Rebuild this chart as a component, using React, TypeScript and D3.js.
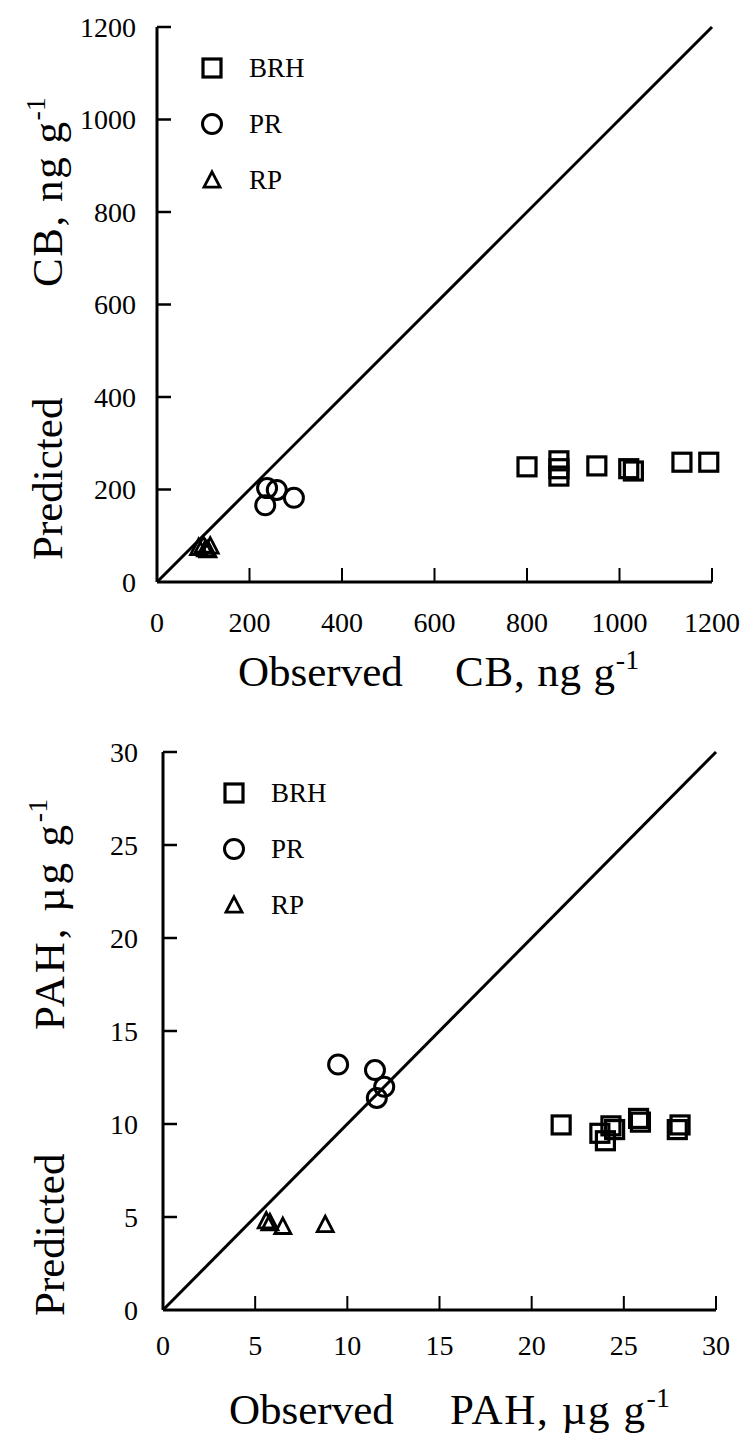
import React from "react";
import * as d3 from "d3";

// ---------- Data ----------
const cbTicks = [0, 200, 400, 600, 800, 1000, 1200];
const pahTicks = [0, 5, 10, 15, 20, 25, 30];

const cbBRH: [number, number][] = [
  [800, 249], [869, 262], [869, 245], [869, 229], [951, 251],
  [1020, 245], [1030, 240], [1135, 259], [1193, 259],
];
const cbPR: [number, number][] = [
  [238, 203], [259, 199], [234, 166], [296, 182],
];
const cbRP: [number, number][] = [
  [90, 75], [100, 80], [105, 72], [115, 78], [110, 70],
];

const pahBRH: [number, number][] = [
  [21.6, 9.95], [23.7, 9.5], [24.3, 9.9], [24.0, 9.1], [24.5, 9.7],
  [25.8, 10.3], [25.9, 10.1], [28.05, 9.95], [27.9, 9.7],
];
const pahPR: [number, number][] = [
  [9.5, 13.2], [11.5, 12.9], [11.6, 11.4], [12.0, 12.0],
];
const pahRP: [number, number][] = [
  [5.6, 4.8], [5.8, 4.7], [6.5, 4.5], [8.8, 4.6],
];

const legendLabels = ["BRH", "PR", "RP"];

const FONT = "Liberation Serif";

type Marker = "square" | "circle" | "triangle";

function MarkerShape({ kind, x, y }: { kind: Marker; x: number; y: number }) {
  if (kind === "square") {
    return <rect x={x - 9} y={y - 9} width={18} height={18} fill="none" stroke="#000" strokeWidth={3.2} />;
  }
  if (kind === "circle") {
    return <circle cx={x} cy={y} r={9.5} fill="none" stroke="#000" strokeWidth={3} />;
  }
  const s = 16;
  const h = s * 0.9;
  const p = `M${x},${y - h / 2 - 1}L${x + s / 2},${y + h / 2}L${x - s / 2},${y + h / 2}Z`;
  return <path d={p} fill="none" stroke="#000" strokeWidth={2.8} strokeLinejoin="miter" />;
}

interface PanelProps {
  domain: [number, number];
  ticks: number[];
  xRange: [number, number];
  yRange: [number, number];
  series: { kind: Marker; data: [number, number][] }[];
  legendX: number;
  legendY: number;
  legendStep: number;
  yTitleX: number;
  yPredStart: number;
  yQtyStart: number;
  yQtyLen: number;
  xTitleY: number;
  xObsStart: number;
  xQtyStart: number;
  xQtyLen: number;
  yLabelRight: number;
  xLabelY: number;
  quantity: string;
  unit: string;
}

function Panel(p: PanelProps) {
  const x = d3.scaleLinear().domain(p.domain).range(p.xRange);
  const y = d3.scaleLinear().domain(p.domain).range(p.yRange);
  const tickLen = 14;
  const x0 = x(p.domain[0]);
  const y0 = y(p.domain[0]);
  const line = d3.line<number>().x((d) => x(d)).y((d) => y(d));
  const TF = 43;
  return (
    <g>
      <path d={line(p.domain) || ""} stroke="#000" strokeWidth={3} fill="none" />
      <line x1={x0} y1={y(p.domain[1])} x2={x0} y2={y0} stroke="#000" strokeWidth={3} />
      <line x1={x0} y1={y0} x2={x(p.domain[1])} y2={y0} stroke="#000" strokeWidth={3.2} />
      {p.ticks.map((t) => (
        <g key={"yt" + t}>
          {t !== p.domain[0] && (
            <line x1={x0} x2={x0 + tickLen} y1={y(t)} y2={y(t)} stroke="#000" strokeWidth={2.5} />
          )}
          <text x={p.yLabelRight} y={y(t)} dy="0.35em" textAnchor="end" fontFamily={FONT} fontSize={28}>
            {t}
          </text>
        </g>
      ))}
      {p.ticks.map((t) => (
        <g key={"xt" + t}>
          {t !== p.domain[0] && (
            <line x1={x(t)} x2={x(t)} y1={y0} y2={y0 - tickLen} stroke="#000" strokeWidth={2} />
          )}
          <text x={x(t)} y={p.xLabelY} dy="0.35em" textAnchor="middle" fontFamily={FONT} fontSize={28}>
            {t}
          </text>
        </g>
      ))}
      {p.series.map((s) =>
        s.data.map((d, i) => <MarkerShape key={s.kind + i} kind={s.kind} x={x(d[0])} y={y(d[1])} />)
      )}
      {p.series.map((s, i) => (
        <g key={"lg" + i}>
          <MarkerShape kind={s.kind} x={p.legendX} y={p.legendY + i * p.legendStep} />
          <text x={p.legendX + 37} y={p.legendY + i * p.legendStep} dy="0.35em" fontFamily={FONT} fontSize={27}>
            {legendLabels[i]}
          </text>
        </g>
      ))}
      {/* y title */}
      <text
        transform={`translate(${p.yTitleX},${p.yPredStart}) rotate(-90)`}
        fontFamily={FONT}
        fontSize={TF}
      >
        Predicted
      </text>
      <text
        transform={`translate(${p.yTitleX},${p.yQtyStart}) rotate(-90)`}
        fontFamily={FONT}
        fontSize={TF}
      >
        <tspan textLength={p.yQtyLen} lengthAdjust="spacing">{p.quantity + ", " + p.unit}</tspan>
        <tspan dy={-17} fontSize={28}>-1</tspan>
      </text>
      {/* x title */}
      <text x={p.xObsStart} y={p.xTitleY} fontFamily={FONT} fontSize={TF}>
        Observed
      </text>
      <text x={p.xQtyStart} y={p.xTitleY} fontFamily={FONT} fontSize={TF}>
        <tspan textLength={p.xQtyLen} lengthAdjust="spacing">{p.quantity + ", " + p.unit}</tspan>
        <tspan dy={-17} fontSize={28}>-1</tspan>
      </text>
    </g>
  );
}

export default function App() {
  return (
    <svg
      width={745}
      height={1439}
      style={{ position: "absolute", left: 0, top: 0, display: "block", background: "#fff" }}
    >
      <rect width={745} height={1439} fill="#fff" />
      <Panel
        domain={[0, 1200]}
        ticks={cbTicks}
        xRange={[157, 712]}
        yRange={[582, 27]}
        series={[
          { kind: "square", data: cbBRH },
          { kind: "circle", data: cbPR },
          { kind: "triangle", data: cbRP },
        ]}
        legendX={212}
        legendY={68}
        legendStep={56}
        yTitleX={62}
        yPredStart={560}
        yQtyStart={287}
        yQtyLen={165}
        xTitleY={686}
        xObsStart={238}
        xQtyStart={455}
        xQtyLen={160}
        yLabelRight={136}
        xLabelY={622}
        quantity="CB"
        unit="ng g"
      />
      <Panel
        domain={[0, 30]}
        ticks={pahTicks}
        xRange={[163, 716]}
        yRange={[1310, 752]}
        series={[
          { kind: "square", data: pahBRH },
          { kind: "circle", data: pahPR },
          { kind: "triangle", data: pahRP },
        ]}
        legendX={234}
        legendY={793}
        legendStep={56}
        yTitleX={64}
        yPredStart={1316}
        yQtyStart={1030}
        yQtyLen={205}
        xTitleY={1424}
        xObsStart={229}
        xQtyStart={450}
        xQtyLen={195}
        yLabelRight={138}
        xLabelY={1345}
        quantity="PAH"
        unit="µg g"
      />
    </svg>
  );
}
